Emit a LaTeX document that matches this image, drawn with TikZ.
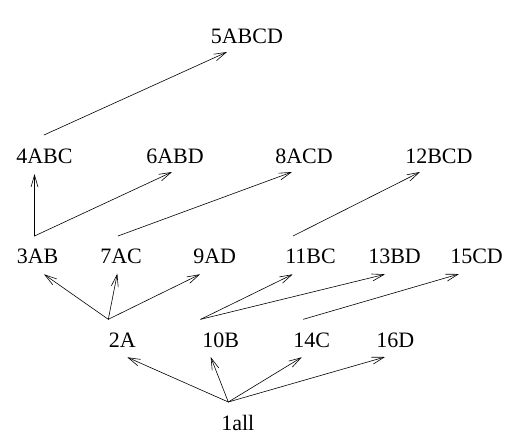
\documentclass[tikz,border=0pt]{standalone}
\usepackage{fontspec}
\setmainfont{Liberation Serif}
\usetikzlibrary{arrows.meta}
\begin{document}
\begin{tikzpicture}[>={Straight Barb[length=12pt,width=7pt]},line cap=round,line join=round,x=1pt,y=-1pt,line width=.6pt,font=\fontsize{22}{26}\selectfont,
	lbl/.style={inner sep=0pt,anchor=base west}]
	\useasboundingbox (0,0) rectangle (524,441);
	% labels, row by row
	\node[lbl] (ABCD) at (210.5,44) {5ABCD};
	\node[lbl] (ABC) at (16,163) {4ABC};
	\node[lbl] (ABD) at (146,163) {6ABD};
	\node[lbl] (ACD) at (275,163) {8ACD};
	\node[lbl] (BCD) at (405,163) {12BCD};
	\node[lbl] (AB) at (16.5,263) {3AB};
	\node[lbl] (AC) at (100,263) {7AC};
	\node[lbl] (AD) at (193,263) {9AD};
	\node[lbl] (BC) at (285,263) {11BC};
	\node[lbl] (BD) at (368,263) {13BD};
	\node[lbl] (CD) at (450,263) {15CD};
	\node[lbl] (A) at (108.5,347.5) {2A};
	\node[lbl] (B) at (202,347.5) {10B};
	\node[lbl] (C) at (293,347.5) {14C};
	\node[lbl] (D) at (376,347.5) {16D};
	\node[lbl] (all) at (221,430) {1all};
	% arrows
	\draw[->] ([shift={(7.3,-28)}]all.base west) -- ([shift={(18.8,9.8)}]A.base west);
	\draw[->] ([shift={(7.3,-28)}]all.base west) -- ([shift={(8.7,9.5)}]B.base west);
	\draw[->] ([shift={(7.3,-28)}]all.base west) -- ([shift={(8.7,9.8)}]C.base west);
	\draw[->] ([shift={(7.3,-28)}]all.base west) -- ([shift={(9,9.5)}]D.base west);
	\draw[->] ([shift={(-.2,-28.2)}]A.base west) -- ([shift={(27.5,11.3)}]AB.base west);
	\draw[->] ([shift={(-.2,-28.2)}]A.base west) -- ([shift={(17.3,10.7)}]AC.base west);
	\draw[->] ([shift={(-.2,-28.2)}]A.base west) -- ([shift={(7,11.3)}]AD.base west);
	\draw[->] ([shift={(-1.3,-28.2)}]B.base west) -- ([shift={(7.7,11.3)}]BC.base west);
	\draw[->] ([shift={(-1.3,-28.2)}]B.base west) -- ([shift={(17,11.3)}]BD.base west);
	\draw[->] ([shift={(10.3,-28.2)}]C.base west) -- ([shift={(9,11)}]CD.base west);
	\draw[->] ([shift={(18,-27)}]AB.base west) -- ([shift={(18.5,11)}]ABC.base west);
	\draw[->] ([shift={(18,-27)}]AB.base west) -- ([shift={(26,9)}]ABD.base west);
	\draw[->] ([shift={(18,-27)}]AC.base west) -- ([shift={(17,9)}]ACD.base west);
	\draw[->] ([shift={(8,-27)}]BC.base west) -- ([shift={(15,9)}]BCD.base west);
	\draw[->] ([shift={(28,-28)}]ABC.base west) -- ([shift={(16.5,8)}]ABCD.base west);
\end{tikzpicture}
\end{document}
